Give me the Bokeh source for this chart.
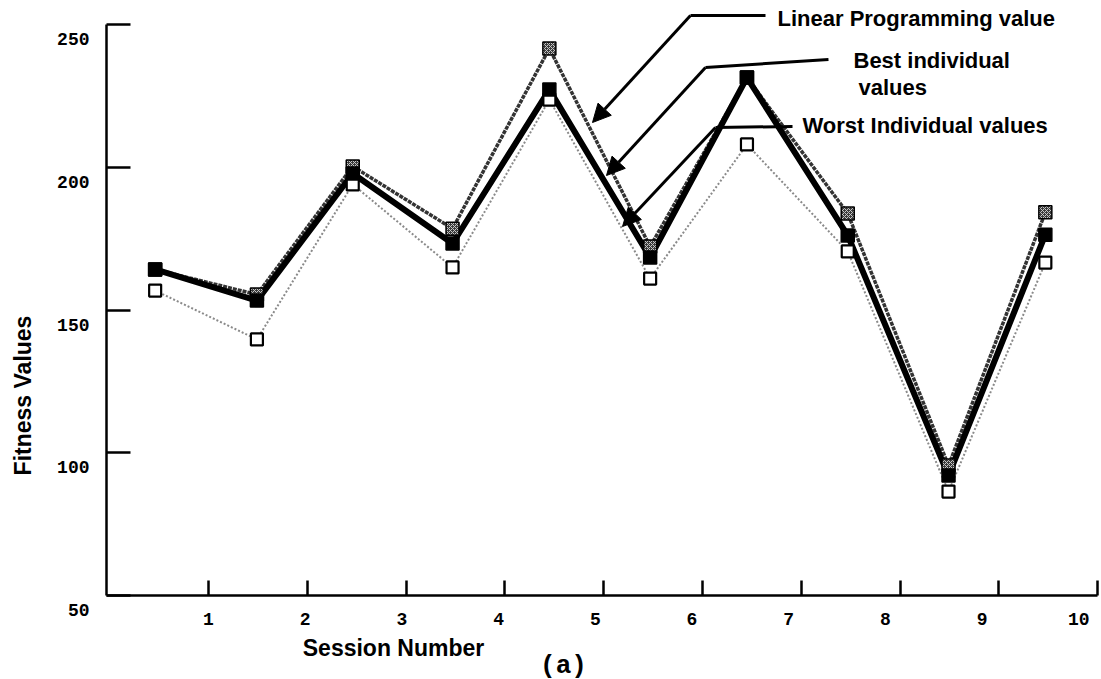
import math
from bokeh.plotting import figure
from bokeh.models import Range1d, FixedTicker, Label, Arrow, NormalHead, LinearAxis
from bokeh.embed import file_html
from bokeh.resources import INLINE

# ---- data ----
session_pos = [0.46, 1.49, 2.46, 3.47, 4.45, 5.47, 6.45, 7.47, 8.49, 9.47]
lp_values = [164.2, 155.4, 200.3, 178.5, 241.6, 172.2, 231.4, 183.8, 95.5, 184.2]
best_values = [164.2, 153.3, 197.8, 173.3, 227.2, 168.4, 231.4, 176.1, 92.0, 176.4]
worst_values = [156.8, 139.7, 194.0, 164.9, 223.7, 161.0, 208.0, 170.5, 86.4, 166.6]
x_ticks = [1, 2, 3, 4, 5, 6, 7, 8, 9, 10]
x_tick_labels = ["1", "2", "3", "4", "5", "6", "7", "8", "9", "10"]
y_ticks = [50, 100, 150, 200, 250]
y_tick_labels = ["50", "100", "150", "200", "250"]

W, H = 1101, 679
AXIS_X_PX, AXIS_Y_PX = 106, 595
X_ORIGIN_PX, X_SCALE = 109.2, 98.8
Y_SCALE = 2.855


def dx(px):
    return (px - X_ORIGIN_PX) / X_SCALE


def dy(py):
    return 50 + (AXIS_Y_PX - py) / Y_SCALE


p = figure(width=W, height=H, output_backend="svg", toolbar_location=None,
           x_range=Range1d(dx(0), dx(W)), y_range=Range1d(dy(H), dy(0)),
           x_axis_location=None, y_axis_location=None, min_border=0)
p.outline_line_color = None
p.grid.visible = False
p.background_fill_color = "white"
p.border_fill_color = "white"

yax = LinearAxis(ticker=FixedTicker(ticks=y_ticks), bounds=(50, 250),
                 fixed_location=dx(AXIS_X_PX))
yax.major_tick_in = 24
yax.major_tick_out = 0
yax.minor_tick_line_color = None
yax.axis_line_width = 2.5
yax.major_tick_line_width = 2.5
yax.major_label_text_font_size = "0px"
yax.major_label_text_color = None
p.add_layout(yax, "left")

xax = LinearAxis(ticker=FixedTicker(ticks=x_ticks), bounds=(dx(AXIS_X_PX), 10),
                 fixed_location=50)
xax.major_tick_in = 15
xax.major_tick_out = 0
xax.minor_tick_line_color = None
xax.axis_line_width = 2.5
xax.major_tick_line_width = 2.5
xax.major_label_text_font_size = "0px"
xax.major_label_text_color = None
p.add_layout(xax, "below")

mono = "Liberation Mono"
sans = "Liberation Sans"

for v, t in zip(y_ticks, y_tick_labels):
    p.add_layout(Label(x=dx(89), y=v, y_offset=-14.5, text=t, text_font=mono,
                       text_font_style="bold", text_font_size="18px",
                       text_align="right", text_baseline="middle", text_color="black"))

for v, t in zip(x_ticks, x_tick_labels):
    p.add_layout(Label(x=v, y=50, x_offset=-2.1 * (v - 1), y_offset=-23, text=t,
                       text_font=mono, text_font_style="bold", text_font_size="18px",
                       text_align="center", text_baseline="middle", text_color="black"))

p.add_layout(Label(x=dx(22), y=dy(395), text="Fitness Values", angle=math.pi / 2,
                   text_font=sans, text_font_style="bold", text_font_size="23px",
                   text_align="center", text_baseline="middle", text_color="black"))
p.add_layout(Label(x=dx(393), y=dy(647), text="Session Number", text_font=sans,
                   text_font_style="bold", text_font_size="23px", text_align="center",
                   text_baseline="middle", text_color="black"))
p.add_layout(Label(x=dx(563), y=dy(665), text="(a)", text_font=mono,
                   text_font_style="bold", text_font_size="26px", text_align="center",
                   text_baseline="middle", text_color="black"))

p.line(session_pos, worst_values, line_color="#8a8a8a", line_width=2, line_dash="2 2")
p.line(session_pos, lp_values, line_color="#333333", line_width=3.5, line_dash="4 1")
p.line(session_pos, best_values, line_color="black", line_width=6)

p.scatter(session_pos, lp_values, marker="square", size=13, fill_color="#3a3a3a",
          line_color="black", line_width=1.5, hatch_pattern="x", hatch_color="#c8c8c8",
          hatch_scale=4, hatch_weight=1)
p.scatter(session_pos, worst_values, marker="square", size=12, fill_color="white",
          line_color="black", line_width=2.2)
p.scatter(session_pos, best_values, marker="square", size=13, fill_color="black",
          line_color="black", line_width=1.5)

for txt, px, py in [("Linear Programming value", 777, 18),
                    ("Best individual", 853, 60),
                    ("values", 858, 87),
                    ("Worst Individual values", 802, 125)]:
    p.add_layout(Label(x=dx(px), y=dy(py), text=txt, text_font=sans,
                       text_font_style="bold", text_font_size="22px", text_align="left",
                       text_baseline="middle", text_color="black"))

for (hx0, hy0, hx1, hy1, tx, ty) in [(765, 15, 690, 15, 592, 122),
                                      (828, 59, 705, 67, 606, 175),
                                      (792, 126, 715, 127, 622, 226)]:
    p.add_layout(Arrow(end=None, x_start=dx(hx0), y_start=dy(hy0),
                       x_end=dx(hx1), y_end=dy(hy1), line_width=3, line_color="black"))
    p.add_layout(Arrow(end=NormalHead(size=18, fill_color="black", line_color="black"),
                       x_start=dx(hx1), y_start=dy(hy1), x_end=dx(tx), y_end=dy(ty),
                       line_width=3, line_color="black"))

open("out.html", "w").write(file_html(p, INLINE))
